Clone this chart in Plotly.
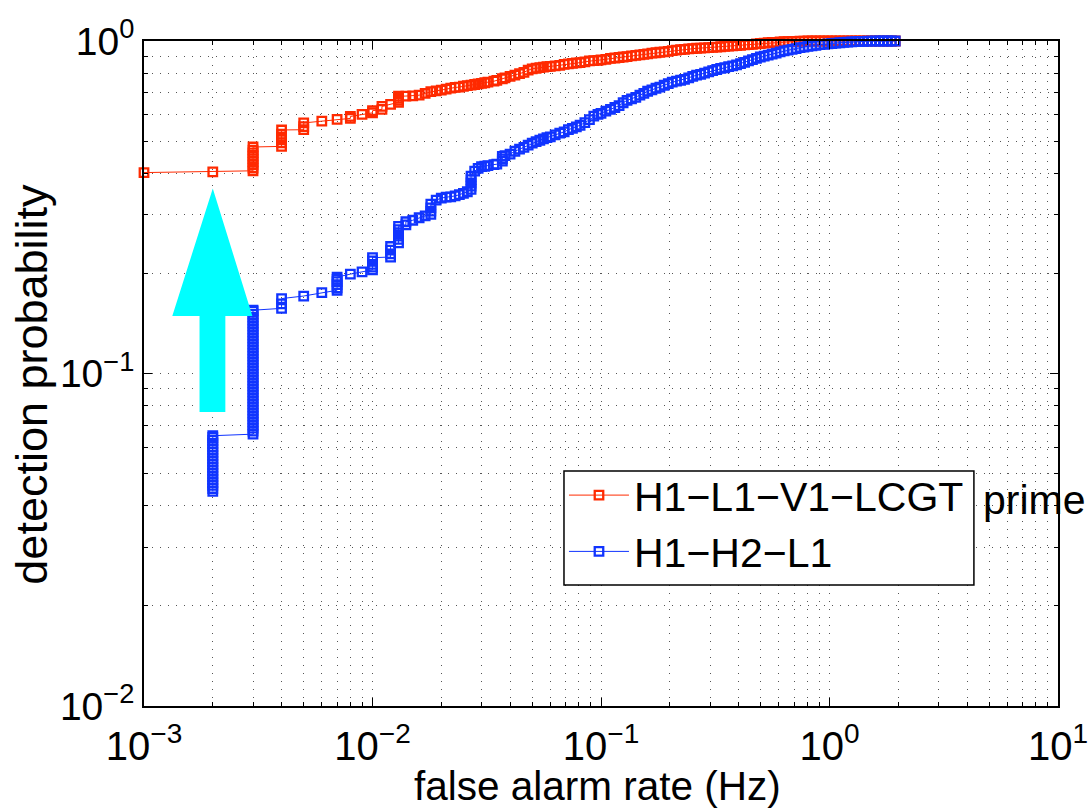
import plotly.graph_objects as go

# values
# false alarm rate (Hz) and detection probability, H1-L1-V1-LCGT prime
red_far = [
    0.001, 0.002,
    0.003, 0.003, 0.003, 0.003, 0.003, 0.003, 0.003, 0.003, 0.003,
    0.004, 0.004, 0.004, 0.004, 0.004, 0.004,
    0.005, 0.005, 0.005, 0.006, 0.007, 0.008, 0.008, 0.009,
    0.010, 0.010, 0.011, 0.011, 0.012, 0.013, 0.013, 0.013, 0.013,
    0.014, 0.015, 0.016, 0.017, 0.018, 0.019, 0.020, 0.021, 0.022, 0.023,
    0.024, 0.025, 0.026, 0.027, 0.028, 0.029, 0.030, 0.031, 0.032, 0.034,
    0.035, 0.037, 0.038, 0.040, 0.042, 0.044, 0.046, 0.048, 0.050, 0.052,
    0.054, 0.056, 0.058, 0.060, 0.063, 0.066, 0.069, 0.072, 0.075, 0.078,
    0.081, 0.085, 0.089, 0.093, 0.097, 0.100, 0.105, 0.110, 0.115, 0.120,
    0.125, 0.130, 0.136, 0.142, 0.148, 0.154, 0.160, 0.167, 0.174, 0.181,
    0.189, 0.197, 0.205, 0.214, 0.223, 0.232, 0.242, 0.252, 0.262, 0.273,
    0.284, 0.296, 0.308, 0.321, 0.334, 0.348, 0.362, 0.377, 0.392, 0.408,
    0.425, 0.442, 0.460, 0.479, 0.498, 0.518, 0.539, 0.561, 0.584, 0.608,
    0.633, 0.659, 0.686, 0.714, 0.743, 0.773, 0.805, 0.838, 0.872, 0.908,
    0.945, 0.984, 1.024, 1.066, 1.110, 1.155, 1.202, 1.251, 1.302, 1.355,
    1.410, 1.468, 1.528, 1.590, 1.655, 1.722, 1.792, 1.865, 1.940,
]
red_eff = [
    0.402, 0.404,
    0.407, 0.415, 0.424, 0.433, 0.442, 0.451, 0.461, 0.470, 0.480,
    0.482, 0.494, 0.504, 0.515, 0.525, 0.540,
    0.541, 0.553, 0.567, 0.574, 0.581, 0.585, 0.593, 0.602,
    0.608, 0.617, 0.623, 0.636, 0.645, 0.654, 0.663, 0.672, 0.682,
    0.683, 0.684, 0.687, 0.696, 0.704, 0.708, 0.712, 0.717, 0.722, 0.725,
    0.727, 0.731, 0.734, 0.737, 0.740, 0.743, 0.746, 0.749, 0.752, 0.757,
    0.761, 0.770, 0.775, 0.783, 0.790, 0.798, 0.805, 0.817, 0.825, 0.828,
    0.832, 0.835, 0.837, 0.839, 0.842, 0.845, 0.850, 0.854, 0.857, 0.859,
    0.861, 0.866, 0.871, 0.873, 0.875, 0.877, 0.881, 0.887, 0.889, 0.892,
    0.895, 0.898, 0.902, 0.905, 0.908, 0.911, 0.915, 0.919, 0.922, 0.925,
    0.928, 0.931, 0.935, 0.939, 0.942, 0.944, 0.947, 0.949, 0.951, 0.952,
    0.954, 0.955, 0.957, 0.959, 0.961, 0.963, 0.965, 0.967, 0.969, 0.971,
    0.973, 0.975, 0.977, 0.980, 0.983, 0.986, 0.988, 0.990, 0.991, 0.993,
    0.995, 0.996, 0.997, 0.998, 0.999, 0.999, 1.0, 1.0, 1.0, 1.0,
    1.0, 1.0, 1.0, 1.0, 1.0, 1.0, 1.0, 1.0, 1.0, 1.0,
    1.0, 1.0, 1.0, 1.0, 1.0, 1.0, 1.0, 1.0, 1.0,
]

# H1-H2-L1
blue_far = [
    0.002, 0.002, 0.002, 0.002, 0.002, 0.002, 0.002, 0.002, 0.002, 0.002,
    0.002, 0.002, 0.002, 0.002, 0.002, 0.002, 0.002, 0.002, 0.002, 0.002,
    0.003, 0.003, 0.003, 0.003, 0.003, 0.003, 0.003, 0.003, 0.003, 0.003,
    0.003, 0.003, 0.003, 0.003, 0.003, 0.003, 0.003, 0.003, 0.003, 0.003,
    0.003, 0.003, 0.003, 0.003, 0.003, 0.003, 0.003, 0.003, 0.003, 0.003,
    0.003, 0.003, 0.003, 0.003, 0.003, 0.003, 0.003, 0.003, 0.003, 0.003,
    0.003, 0.003, 0.003,
    0.004, 0.004, 0.004, 0.005, 0.006,
    0.007, 0.007, 0.007, 0.007, 0.007, 0.007,
    0.008, 0.009, 0.010, 0.010, 0.010, 0.010, 0.010,
    0.012, 0.012, 0.012, 0.012,
    0.013, 0.013, 0.013, 0.013, 0.013, 0.013, 0.014, 0.014, 0.015, 0.016, 0.017,
    0.018, 0.018, 0.018, 0.018, 0.019, 0.020, 0.021, 0.022, 0.023, 0.024, 0.025,
    0.026, 0.027, 0.027, 0.027, 0.027, 0.027, 0.028, 0.029, 0.030, 0.031, 0.032,
    0.034, 0.035, 0.037, 0.037, 0.037, 0.038, 0.040, 0.042, 0.044, 0.046, 0.048,
    0.050, 0.052, 0.054, 0.056, 0.058, 0.060, 0.063, 0.066, 0.069, 0.072, 0.075,
    0.078, 0.081, 0.085, 0.089, 0.093, 0.097, 0.100, 0.105, 0.110, 0.115,
    0.120, 0.125, 0.130, 0.136, 0.142, 0.148, 0.154, 0.160, 0.167, 0.174,
    0.181, 0.189, 0.197, 0.205, 0.214, 0.223, 0.232, 0.242, 0.252, 0.262,
    0.273, 0.284, 0.296, 0.308, 0.321, 0.334, 0.348, 0.362, 0.377, 0.392,
    0.408, 0.425, 0.442, 0.460, 0.479, 0.498, 0.518, 0.539, 0.561, 0.584,
    0.608, 0.633, 0.659, 0.686, 0.714, 0.743, 0.773, 0.805, 0.838, 0.872,
    0.908, 0.945, 0.984, 1.024, 1.066, 1.110, 1.155, 1.202, 1.251, 1.302,
    1.355, 1.410, 1.468, 1.528, 1.590, 1.655, 1.722, 1.792, 1.865, 1.940,
]
blue_eff = [
    0.0442, 0.0451, 0.0461, 0.0470, 0.0480, 0.0490, 0.0501, 0.0511, 0.0522, 0.0533,
    0.0544, 0.0555, 0.0567, 0.0579, 0.0591, 0.0603, 0.0616, 0.0629, 0.0642, 0.0650,
    0.0657, 0.0671, 0.0685, 0.0699, 0.0714, 0.0729, 0.0744, 0.0760, 0.0776, 0.0792,
    0.0809, 0.0826, 0.0843, 0.0861, 0.0879, 0.0897, 0.0916, 0.0935, 0.0955, 0.0975,
    0.0995, 0.1016, 0.1038, 0.1059, 0.1082, 0.1104, 0.1128, 0.1151, 0.1175, 0.1200,
    0.1225, 0.1251, 0.1278, 0.1304, 0.1332, 0.1360, 0.1388, 0.1417, 0.1447, 0.1477,
    0.1508, 0.1540, 0.1550,
    0.157, 0.162, 0.168, 0.171, 0.175,
    0.178, 0.181, 0.185, 0.189, 0.192, 0.195,
    0.199, 0.202, 0.205, 0.209, 0.213, 0.218, 0.223,
    0.224, 0.229, 0.235, 0.241,
    0.247, 0.253, 0.259, 0.265, 0.271, 0.277, 0.280, 0.286, 0.289, 0.294, 0.298,
    0.301, 0.308, 0.315, 0.323, 0.332, 0.337, 0.339, 0.340, 0.342, 0.345, 0.348,
    0.352, 0.358, 0.366, 0.374, 0.383, 0.392, 0.406, 0.414, 0.419, 0.420, 0.422,
    0.425, 0.426, 0.435, 0.442, 0.450, 0.452, 0.457, 0.466, 0.473, 0.479, 0.486,
    0.493, 0.498, 0.503, 0.508, 0.512, 0.515, 0.522, 0.528, 0.533, 0.541, 0.546,
    0.552, 0.558, 0.568, 0.580, 0.594, 0.602, 0.606, 0.615, 0.623, 0.631,
    0.639, 0.652, 0.663, 0.670, 0.677, 0.687, 0.696, 0.706, 0.713, 0.721,
    0.727, 0.736, 0.744, 0.752, 0.757, 0.762, 0.767, 0.775, 0.783, 0.789,
    0.794, 0.800, 0.808, 0.815, 0.821, 0.827, 0.831, 0.837, 0.842, 0.848,
    0.855, 0.863, 0.871, 0.879, 0.887, 0.895, 0.901, 0.907, 0.913, 0.920,
    0.927, 0.934, 0.939, 0.944, 0.949, 0.955, 0.959, 0.964, 0.967, 0.971,
    0.975, 0.977, 0.980, 0.983, 0.986, 0.988, 0.990, 0.992, 0.994, 0.996,
    0.997, 0.998, 0.999, 0.999, 1.0, 1.0, 1.0, 1.0, 1.0, 1.0,
]

# cyan arrow outline (data coordinates)
arrow_x = [2.0e-3, 2.98e-3, 2.27e-3, 2.27e-3, 1.75e-3, 1.75e-3, 1.33e-3, 2.0e-3]
arrow_y = [0.36, 0.149, 0.149, 0.0766, 0.0766, 0.149, 0.149, 0.36]

x_tickvals = [1e-3, 1e-2, 1e-1, 1e0, 1e1]
x_ticktext = ['10<sup>−3</sup>', '10<sup>−2</sup>', '10<sup>−1</sup>', '10<sup>0</sup>', '10<sup>1</sup>']
y_tickvals = [1e-2, 1e-1, 1e0]
y_ticktext = ['10<sup>−2</sup>', '10<sup>−1</sup>', '10<sup>0</sup>']

RED = '#ff2a00'
BLUE = '#1034ff'
FONT = 'Liberation Sans, Arial, Helvetica, sans-serif'

fig = go.Figure()
fig.add_trace(go.Scatter(
    x=red_far, y=red_eff, mode='lines+markers', name='H1−L1−V1−LCGT',
    line=dict(color=RED, width=1),
    marker=dict(symbol='square-open', size=8.5, color=RED, line=dict(width=2.3, color=RED)),
    cliponaxis=False,
))
fig.add_trace(go.Scatter(
    x=blue_far, y=blue_eff, mode='lines+markers', name='H1−H2−L1',
    line=dict(color=BLUE, width=1),
    marker=dict(symbol='square-open', size=8.5, color=BLUE, line=dict(width=2.3, color=BLUE)),
    cliponaxis=False,
))
fig.add_trace(go.Scatter(
    x=arrow_x, y=arrow_y, mode='lines', fill='toself', fillcolor='#00ffff',
    line=dict(color='#00ffff', width=0), showlegend=False, hoverinfo='skip',
))

minor_x = [m * 10.0 ** e for e in range(-3, 1) for m in range(2, 10)]
minor_y = [m * 10.0 ** e for e in range(-2, 0) for m in range(2, 10)]

grid = dict(gridcolor='#555555', gridwidth=1, griddash='1px,7px')

fig.update_xaxes(
    type='log', range=[-3, 1], tickmode='array', tickvals=x_tickvals, ticktext=x_ticktext,
    showline=True, linecolor='black', linewidth=1.5, mirror='allticks',
    ticks='inside', ticklen=8, tickcolor='black', showgrid=True, **grid,
    minor=dict(tickmode='array', tickvals=minor_x, ticks='inside', ticklen=4,
               tickcolor='black', showgrid=True, **grid),
    tickfont=dict(size=40, color='black'), ticklabeloverflow='allow', ticklabelstandoff=4,
    automargin=False, zeroline=False,
)
fig.update_yaxes(
    type='log', range=[-2, 0], tickmode='array', tickvals=y_tickvals, ticktext=y_ticktext,
    showline=True, linecolor='black', linewidth=1.5, mirror='allticks',
    ticks='inside', ticklen=8, tickcolor='black', showgrid=True, **grid,
    minor=dict(tickmode='array', tickvals=minor_y, ticks='inside', ticklen=4,
               tickcolor='black', showgrid=True, **grid),
    tickfont=dict(size=39, color='black'), ticklabeloverflow='allow',
    automargin=False, zeroline=False,
)

fig.update_layout(
    width=1089, height=809,
    margin=dict(l=144, r=31, t=41, b=103),
    paper_bgcolor='white', plot_bgcolor='white',
    font=dict(family=FONT, color='black'),
    showlegend=True,
    legend=dict(x=0.4595, y=0.367, xanchor='left', yanchor='top',
                bgcolor='rgba(0,0,0,0)', borderwidth=0,
                font=dict(size=41), itemwidth=60, tracegroupgap=0),
    shapes=[dict(type='rect', xref='paper', yref='paper',
                 x0=0.4595, x1=0.908, y0=0.182, y1=0.3534,
                 line=dict(color='black', width=1.5), fillcolor='white', layer='above')],
    annotations=[
        dict(text='prime', x=0.9153, y=0.3098, xref='paper', yref='paper',
             xanchor='left', yanchor='middle', showarrow=False,
             font=dict(size=41, color='black')),
        dict(text='false alarm rate (Hz)', x=0.4967, y=-0.12, xref='paper', yref='paper',
             xanchor='center', yanchor='middle', showarrow=False,
             font=dict(size=40.5, color='black')),
        dict(text='detection probability', x=-0.124, y=0.4842, xref='paper', yref='paper',
             xanchor='center', yanchor='middle', textangle=-90, showarrow=False,
             font=dict(size=45, color='black')),
    ],
)

fig.write_html('out.html', config={'displayModeBar': False},
               post_script="document.body.style.margin='0';")
